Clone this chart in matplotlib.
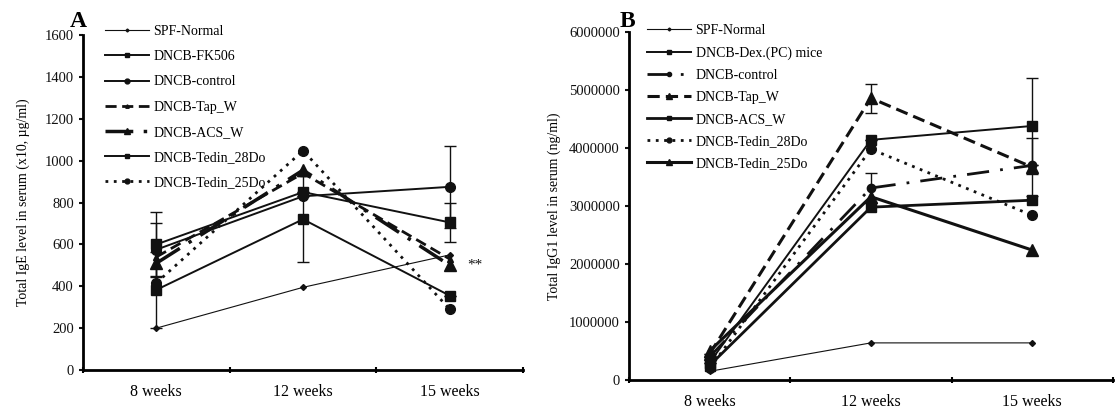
import matplotlib
matplotlib.use("Agg")
import matplotlib.pyplot as plt
import numpy as np

plt.rcParams['font.family'] = ['Liberation Serif', 'DejaVu Serif']

weeks = ['8 weeks', '12 weeks', '15 weeks']

# panel A - total IgE (x10, ug/ml)
names_a = ['SPF-Normal', 'DNCB-FK506', 'DNCB-control', 'DNCB-Tap_W',
           'DNCB-ACS_W', 'DNCB-Tedin_28Do', 'DNCB-Tedin_25Do']
spf_a = [200, 395, 550]
fk506_a = [600, 850, 705]
control_a = [575, 830, 875]
tap_a = [540, 940, 530]
acs_a = [510, 955, 500]
tedin28_a = [383, 720, 355]
tedin25_a = [416, 1048, 290]
err_fk506_a = [155, 0, 95]
err_control_a = [125, 0, 195]
err_tedin28_a = [180, 205, 0]

# panel B - total IgG1 (ng/ml)
names_b = ['SPF-Normal', 'DNCB-Dex.(PC) mice', 'DNCB-control', 'DNCB-Tap_W',
           'DNCB-ACS_W', 'DNCB-Tedin_28Do', 'DNCB-Tedin_25Do']
spf_b = [150000, 640000, 640000]
dex_b = [300000, 4140000, 4380000]
control_b = [400000, 3310000, 3700000]
tap_b = [450000, 4860000, 3670000]
acs_b = [250000, 2980000, 3100000]
tedin28_b = [200000, 3980000, 2840000]
tedin25_b = [500000, 3160000, 2240000]
err_dex_b = [0, 0, 820000]
err_control_b = [0, 260000, 0]
err_tap_b = [0, 250000, 500000]

x = np.arange(1, 4)
k = '#111111'


def style_axes(ax, ymax, step):
    ax.set_xlim(0.5, 3.5)
    ax.set_ylim(0, ymax)
    ax.set_yticks(np.arange(0, ymax + 1, step))
    ax.set_xticks(x)
    ax.set_xticklabels(weeks, fontsize=11.5)
    ax.set_xticks([0.5, 1.5, 2.5, 3.5], minor=True)
    ax.tick_params(axis='x', which='major', length=0, pad=10)
    ax.tick_params(axis='x', which='minor', length=4, width=1.5, direction='inout')
    ax.tick_params(axis='y', length=3, width=1.5, labelsize=10.5, colors=k)
    for s in ['top', 'right']:
        ax.spines[s].set_visible(False)
    for s in ['left', 'bottom']:
        ax.spines[s].set_linewidth(2)


def err(ax, y, e):
    ax.errorbar(x, y, yerr=e, fmt='none', ecolor=k, elinewidth=1, capsize=4)


fig = plt.figure(figsize=(11.2, 4.08), dpi=100)

# ---- A ----
ax = fig.add_axes([0.0741, 0.0931, 0.393, 0.821])
ax.plot(x, spf_a, '-', color=k, lw=0.8, marker='D', ms=3, label=names_a[0])
ax.plot(x, fk506_a, '-', color=k, lw=1.4, marker='s', ms=7, label=names_a[1])
ax.plot(x, control_a, '-', color=k, lw=1.4, marker='o', ms=7, label=names_a[2])
ax.plot(x, tap_a, color=k, lw=2, ls=(0, (4, 2)), marker='^', ms=5, label=names_a[3])
ax.plot(x, acs_a, color=k, lw=2.5, ls=(0, (8, 3, 1, 3)), marker='^', ms=8, label=names_a[4])
ax.plot(x, tedin28_a, '-', color=k, lw=1.4, marker='s', ms=7, label=names_a[5])
ax.plot(x, tedin25_a, color=k, lw=2, ls=(0, (1, 2)), marker='o', ms=7, label=names_a[6])
err(ax, fk506_a, err_fk506_a)
err(ax, control_a, err_control_a)
err(ax, tedin28_a, err_tedin28_a)
ax.text(3.12, acs_a[2], '**', fontsize=11, va='center', color=k)
style_axes(ax, 1600, 200)
ax.set_ylabel('Total IgE level in serum (x10, \u00b5g/ml)', fontsize=10, labelpad=11)
ax.legend(loc='upper left', bbox_to_anchor=(0.03, 1.055), frameon=False, fontsize=10,
          handlelength=3.2, handletextpad=0.3, labelspacing=0.88, markerscale=0.5,
          borderaxespad=0.2)
fig.text(0.062, 0.935, 'A', fontsize=17, fontweight='bold')

# ---- B ----
ax = fig.add_axes([0.5616, 0.0686, 0.432, 0.853])
ax.plot(x, spf_b, '-', color=k, lw=0.8, marker='D', ms=3, label=names_b[0])
ax.plot(x, dex_b, '-', color=k, lw=1.4, marker='s', ms=7, label=names_b[1])
ax.plot(x, control_b, color=k, lw=2, ls=(0, (8, 4, 1, 4)), marker='o', ms=6, label=names_b[2])
ax.plot(x, tap_b, color=k, lw=2.2, ls=(0, (4, 2)), marker='^', ms=9, label=names_b[3])
ax.plot(x, acs_b, '-', color=k, lw=2, marker='s', ms=7, label=names_b[4])
ax.plot(x, tedin28_b, color=k, lw=2, ls=(0, (1, 2)), marker='o', ms=7, label=names_b[5])
ax.plot(x, tedin25_b, '-', color=k, lw=2.2, marker='^', ms=9, label=names_b[6])
err(ax, dex_b, err_dex_b)
err(ax, control_b, err_control_b)
err(ax, tap_b, err_tap_b)
style_axes(ax, 6000000, 1000000)
ax.ticklabel_format(axis='y', style='plain')
ax.set_ylabel('Total IgG1 level in serum (ng/ml)', fontsize=10, labelpad=6)
ax.legend(loc='upper left', bbox_to_anchor=(0.02, 1.046), frameon=False, fontsize=10,
          handlelength=3.2, handletextpad=0.3, labelspacing=0.65, markerscale=0.5,
          borderaxespad=0.2)
fig.text(0.553, 0.935, 'B', fontsize=17, fontweight='bold')

fig.savefig('out.png', dpi=100)
